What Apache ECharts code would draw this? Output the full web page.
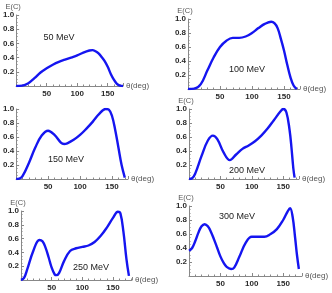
<!DOCTYPE html>
<html><head><meta charset="utf-8">
<script src="https://cdn.jsdelivr.net/npm/echarts@6/dist/echarts.min.js"></script>
<style>html,body{margin:0;padding:0;background:#fff}#c{width:332px;height:293px}</style>
</head><body><div id="c"></div>
<script>
// Data (theta in degrees, E(C) values)
const theta50 = [0,10,20,30,40,50,60,70,80,90,100,110,120,125,130,135,140,145,150,155,160,165,170,175];
const e50     = [0,0.005,0.04,0.11,0.19,0.25,0.30,0.34,0.37,0.40,0.43,0.47,0.50,0.505,0.49,0.46,0.41,0.35,0.27,0.17,0.09,0.03,0.005,0];
const theta100 = [0,10,20,30,40,50,60,70,80,90,100,110,120,130,135,140,145,150,155,160,165,170];
const e100     = [0,0.005,0.07,0.26,0.45,0.60,0.69,0.73,0.73,0.75,0.80,0.87,0.93,0.96,0.94,0.87,0.72,0.55,0.35,0.17,0.05,0];
const theta150 = [0,5,10,20,30,40,50,60,70,75,80,90,100,110,120,130,140,145,150,155,160,165,170];
const e150     = [0,0.005,0.04,0.23,0.45,0.62,0.69,0.63,0.52,0.50,0.51,0.56,0.63,0.72,0.82,0.93,1.0,0.99,0.90,0.70,0.45,0.20,0.02];
const theta200 = [0,5,10,20,30,38,45,55,65,75,85,95,105,115,125,135,145,150,155,160,163,166,168];
const e200     = [0,0.01,0.08,0.33,0.55,0.62,0.57,0.38,0.27,0.35,0.43,0.48,0.54,0.62,0.72,0.84,0.96,1.0,0.95,0.70,0.45,0.15,0.02];
const theta250 = [0,5,10,20,30,35,40,45,50,55,58,62,70,80,90,100,110,120,130,140,150,158,162,167,172,176];
const e250     = [0,0.03,0.15,0.42,0.58,0.56,0.47,0.33,0.18,0.08,0.07,0.10,0.27,0.42,0.46,0.48,0.50,0.55,0.64,0.76,0.90,0.99,0.97,0.70,0.30,0.06];
const theta300 = [0,5,10,15,20,25,30,35,40,45,50,55,60,67,72,80,90,100,110,120,130,140,150,157,161,165,169,172,175];
const e300     = [0.36,0.40,0.50,0.62,0.71,0.74,0.71,0.63,0.52,0.40,0.28,0.19,0.13,0.10,0.12,0.27,0.47,0.56,0.56,0.56,0.60,0.67,0.80,0.92,0.97,0.85,0.55,0.30,0.10];
const labels = ['50 MeV','100 MeV','150 MeV','200 MeV','250 MeV','300 MeV'];
const yTicks = [0.2,0.4,0.6,0.8,1.0];
const xTicks = [50,100,150];

const series = [[theta50,e50],[theta100,e100],[theta150,e150],[theta200,e200],[theta250,e250],[theta300,e300]];
// layout
const layout = [
  {grid:{left:16,top:15,width:107,height:71}, xmax:175, yname:true, tx:59, ty:38},
  {grid:{left:188,top:19,width:112,height:70}, xmax:175, yname:true, tx:247, ty:70},
  {grid:{left:16,top:109,width:112,height:70}, xmax:175, yname:false, tx:66, ty:160},
  {grid:{left:189,top:109,width:110,height:70}, xmax:175, yname:true, tx:247, ty:171},
  {grid:{left:21,top:211,width:111,height:69}, xmax:181, yname:true, tx:91, ty:268},
  {grid:{left:189,top:206,width:113,height:70}, xmax:180, yname:true, tx:237, ty:217}
];
const axisColor = '#888';
const tickFont = {fontSize:8, fontWeight:'bold', color:'#2a2a2a', fontFamily:'Liberation Sans'};
const opt = {animation:false, grid:[], xAxis:[], yAxis:[], series:[], graphic:[]};
layout.forEach((L,i)=>{
  opt.grid.push(L.grid);
  opt.xAxis.push({type:'value', gridIndex:i, min:0, max:L.xmax, interval:50,
    name:'θ(deg)', nameLocation:'end', nameGap:3,
    nameTextStyle:{fontSize:8, color:'#555', fontFamily:'Liberation Sans', verticalAlign:'middle', align:'left'},
    axisLine:{lineStyle:{color:axisColor, width:1}},
    axisTick:{show:true, length:3, inside:true, lineStyle:{color:axisColor}},
    minorTick:{show:true, splitNumber:5, length:1.5, lineStyle:{color:axisColor}},
    splitLine:{show:false},
    axisLabel:Object.assign({margin:4, formatter:v=>xTicks.includes(v)?String(v):''}, tickFont)
  });
  opt.yAxis.push({type:'value', gridIndex:i, min:0, max:1, interval:0.2,
    name:L.yname?'E(C)':'', nameLocation:'end', nameGap:3,
    nameTextStyle:{fontSize:7.5, color:'#555', fontFamily:'Liberation Sans', align:'center', padding:[0,6,0,0]},
    axisLine:{show:true, lineStyle:{color:axisColor, width:1}},
    axisTick:{show:true, length:3, inside:true, lineStyle:{color:axisColor}},
    minorTick:{show:true, splitNumber:4, length:1.5, lineStyle:{color:axisColor}},
    splitLine:{show:false},
    axisLabel:Object.assign({margin:2, formatter:v=>{const t=yTicks.find(k=>Math.abs(k-v)<1e-6);return t?t.toFixed(1):'';}}, tickFont)
  });
  const [xs,ys] = series[i];
  opt.series.push({type:'line', xAxisIndex:i, yAxisIndex:i, smooth:0.4, symbol:'none',
    lineStyle:{color:'#1515f0', width:2.4}, data:xs.map((x,k)=>[x,ys[k]])});
  opt.graphic.push({type:'text', x:L.tx, y:L.ty, style:{text:labels[i], fontSize:9, fill:'#222', fontFamily:'Liberation Sans', align:'center', verticalAlign:'middle'}});
});
const chart = echarts.init(document.getElementById('c'), null, {renderer:'canvas'});
chart.setOption(opt);
</script></body></html>
